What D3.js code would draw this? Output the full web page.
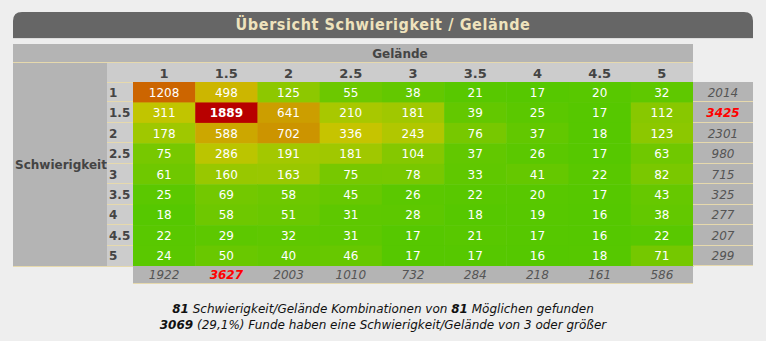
<!DOCTYPE html>
<html><head><meta charset="utf-8">
<script src="https://cdn.jsdelivr.net/npm/d3@7"></script>
<style>
html,body{margin:0;padding:0;background:#eeeeee;}
svg{display:block;}
</style></head>
<body>
<script>
const title = "Übersicht Schwierigkeit / Gelände";
const colLabel = "Gelände";
const rowLabel = "Schwierigkeit";
const terrain = ["1","1.5","2","2.5","3","3.5","4","4.5","5"];
const difficulty = ["1","1.5","2","2.5","3","3.5","4","4.5","5"];
const values = [
  [1208, 498, 125, 55, 38, 21, 17, 20, 32],
  [311, 1889, 641, 210, 181, 39, 25, 17, 112],
  [178, 588, 702, 336, 243, 76, 37, 18, 123],
  [75, 286, 191, 181, 104, 37, 26, 17, 63],
  [61, 160, 163, 75, 78, 33, 41, 22, 82],
  [25, 69, 58, 45, 26, 22, 20, 17, 43],
  [18, 58, 51, 31, 28, 18, 19, 16, 38],
  [22, 29, 32, 31, 17, 21, 17, 16, 22],
  [24, 50, 40, 46, 17, 17, 16, 18, 71]
];
const rowTotals = [2014, 3425, 2301, 980, 715, 325, 277, 207, 299];
const colTotals = [1922, 3627, 2003, 1010, 732, 284, 218, 161, 586];
const footerLine1 = [["81", true], [" Schwierigkeit/Gelände Kombinationen von ", false], ["81", true], [" Möglichen gefunden", false]];
const footerLine2 = [["3069", true], [" (29,1%) Funde haben eine Schwierigkeit/Gelände von 3 oder größer", false]];

const W = 766, H = 341;
const FONT = "'DejaVu Sans', Verdana, sans-serif";
const cream = "#e6d9ad";
const svg = d3.select("body").append("svg").attr("width", W).attr("height", H)
  .style("font-family", FONT);

svg.append("rect").attr("width", W).attr("height", H).attr("fill", "#eeeeee");

// Title bar
const tb = {x0: 13, x1: 753, y0: 12, y1: 38, r: 9};
svg.append("path")
  .attr("d", `M${tb.x0},${tb.y1} V${tb.y0 + tb.r} Q${tb.x0},${tb.y0} ${tb.x0 + tb.r},${tb.y0} H${tb.x1 - tb.r} Q${tb.x1},${tb.y0} ${tb.x1},${tb.y0 + tb.r} V${tb.y1} Z`)
  .attr("fill", "#666666");
svg.append("line").attr("x1", tb.x0).attr("x2", tb.x1).attr("y1", tb.y1 + 0.5).attr("y2", tb.y1 + 0.5)
  .attr("stroke", "#dcdcdc");
svg.append("text").attr("x", (tb.x0 + tb.x1) / 2).attr("y", 30)
  .attr("text-anchor", "middle").attr("fill", "#efe3bd")
  .style("font-family", "'DejaVu Sans Condensed', 'DejaVu Sans', sans-serif")
  .style("font-weight", "bold").style("font-size", "16px").style("letter-spacing", "0.6px")
  .text(title);

// Scales
const x = d3.scaleBand().domain(terrain).range([133, 693]);
const y = d3.scaleBand().domain(difficulty).range([82, 266]);
const maxVal = d3.max(values.flat());
const color = d3.scaleLinear()
  .domain([16, 40, 100, 200, 330, 500, 700, 1200, maxVal])
  .range(["#55c800", "#64c800", "#84c800", "#a6c800", "#c6c400", "#ccb600", "#cc9400", "#cc6600", "#b80000"])
  .clamp(true);

// Header: Gelände row
svg.append("rect").attr("x", 13).attr("y", 44).attr("width", 693 - 13).attr("height", 18).attr("fill", "#b4b4b4");
svg.append("text").attr("x", (107 + 693) / 2).attr("y", 57.5).attr("text-anchor", "middle")
  .attr("fill", "#444").style("font-weight", "bold").style("font-size", "12px").text(colLabel);
svg.append("line").attr("x1", 13).attr("x2", 693).attr("y1", 62.5).attr("y2", 62.5).attr("stroke", cream);

// Schwierigkeit cell
svg.append("rect").attr("x", 13).attr("y", 63).attr("width", 107 - 13).attr("height", 266 - 63).attr("fill", "#b4b4b4");
svg.append("text").attr("x", 15).attr("y", 169).attr("fill", "#444")
  .style("font-weight", "bold").style("font-size", "12px").text(rowLabel);

// Column header row
svg.append("rect").attr("x", 107).attr("y", 63).attr("width", 693 - 107).attr("height", 19).attr("fill", "#cccccc");
svg.selectAll("text.colh").data(terrain).join("text").attr("class", "colh")
  .attr("x", d => x(d) + x.bandwidth() / 2).attr("y", 77.5).attr("text-anchor", "middle")
  .attr("fill", "#444").style("font-weight", "bold").style("font-size", "13px").text(d => d);
svg.append("line").attr("x1", 107).attr("x2", 693).attr("y1", 82.5).attr("y2", 82.5).attr("stroke", cream);

// Row labels
svg.append("rect").attr("x", 107).attr("y", 83).attr("width", 26).attr("height", 266 - 83).attr("fill", "#cccccc");
svg.selectAll("text.rowh").data(difficulty).join("text").attr("class", "rowh")
  .attr("x", 109).attr("y", d => y(d) + y.bandwidth() / 2 + 4.5)
  .attr("fill", "#444").style("font-weight", "bold").style("font-size", "12px").text(d => d);
svg.selectAll("line.rowsep").data(difficulty.slice(1)).join("line").attr("class", "rowsep")
  .attr("x1", 107).attr("x2", 133).attr("y1", d => Math.round(y(d)) - 0.5).attr("y2", d => Math.round(y(d)) - 0.5)
  .attr("stroke", cream);

// Cells
const cells = [];
values.forEach((row, i) => row.forEach((v, j) => cells.push({r: difficulty[i], c: terrain[j], v})));
svg.selectAll("rect.cell").data(cells).join("rect").attr("class", "cell")
  .attr("x", d => x(d.c)).attr("y", d => y(d.r))
  .attr("width", x.bandwidth() + 0.5).attr("height", y.bandwidth() + 0.5)
  .attr("fill", d => color(d.v));
svg.selectAll("text.cell").data(cells).join("text").attr("class", "cell")
  .attr("x", d => x(d.c) + x.bandwidth() / 2).attr("y", d => y(d.r) + y.bandwidth() / 2 + 4.5)
  .attr("text-anchor", "middle").attr("fill", "#ffffff")
  .style("font-size", "12px").style("font-weight", d => d.v === maxVal ? "bold" : "normal")
  .text(d => d.v);

// Row totals
const maxRow = d3.max(rowTotals);
svg.append("rect").attr("x", 693).attr("y", 82).attr("width", 60).attr("height", 266 - 82).attr("fill", "#b4b4b4");
svg.selectAll("line.rtsep").data(difficulty.slice(1).concat(["end"])).join("line").attr("class", "rtsep")
  .attr("x1", 693).attr("x2", 753)
  .attr("y1", d => (d === "end" ? 266 : Math.round(y(d))) - 0.5)
  .attr("y2", d => (d === "end" ? 266 : Math.round(y(d))) - 0.5)
  .attr("stroke", cream);
svg.selectAll("text.rt").data(rowTotals).join("text").attr("class", "rt")
  .attr("x", 723).attr("y", (d, i) => y(difficulty[i]) + y.bandwidth() / 2 + 4.5)
  .attr("text-anchor", "middle")
  .attr("fill", d => d === maxRow ? "#ff0000" : "#555555")
  .style("font-style", "italic").style("font-size", "12px")
  .style("font-weight", d => d === maxRow ? "bold" : "normal")
  .text(d => d);

// Column totals
const maxCol = d3.max(colTotals);
svg.append("line").attr("x1", 13).attr("x2", 133).attr("y1", 266.5).attr("y2", 266.5).attr("stroke", cream);
svg.append("rect").attr("x", 133).attr("y", 266).attr("width", 693 - 133).attr("height", 17).attr("fill", "#b4b4b4");
svg.append("line").attr("x1", 133).attr("x2", 693).attr("y1", 283.5).attr("y2", 283.5).attr("stroke", cream);
svg.selectAll("text.ct").data(colTotals).join("text").attr("class", "ct")
  .attr("x", (d, i) => x(terrain[i]) + x.bandwidth() / 2).attr("y", 279)
  .attr("text-anchor", "middle")
  .attr("fill", d => d === maxCol ? "#ff0000" : "#555555")
  .style("font-style", "italic").style("font-size", "12px")
  .style("font-weight", d => d === maxCol ? "bold" : "normal")
  .text(d => d);

// Footer
function footer(parts, yy) {
  const t = svg.append("text").attr("x", 383).attr("y", yy).attr("text-anchor", "middle")
    .attr("fill", "#111").style("font-style", "italic").style("font-size", "12px");
  t.selectAll("tspan").data(parts).join("tspan")
    .style("font-weight", d => d[1] ? "bold" : "normal").text(d => d[0]);
}
footer(footerLine1, 313);
footer(footerLine2, 329);
</script>
</body></html>
